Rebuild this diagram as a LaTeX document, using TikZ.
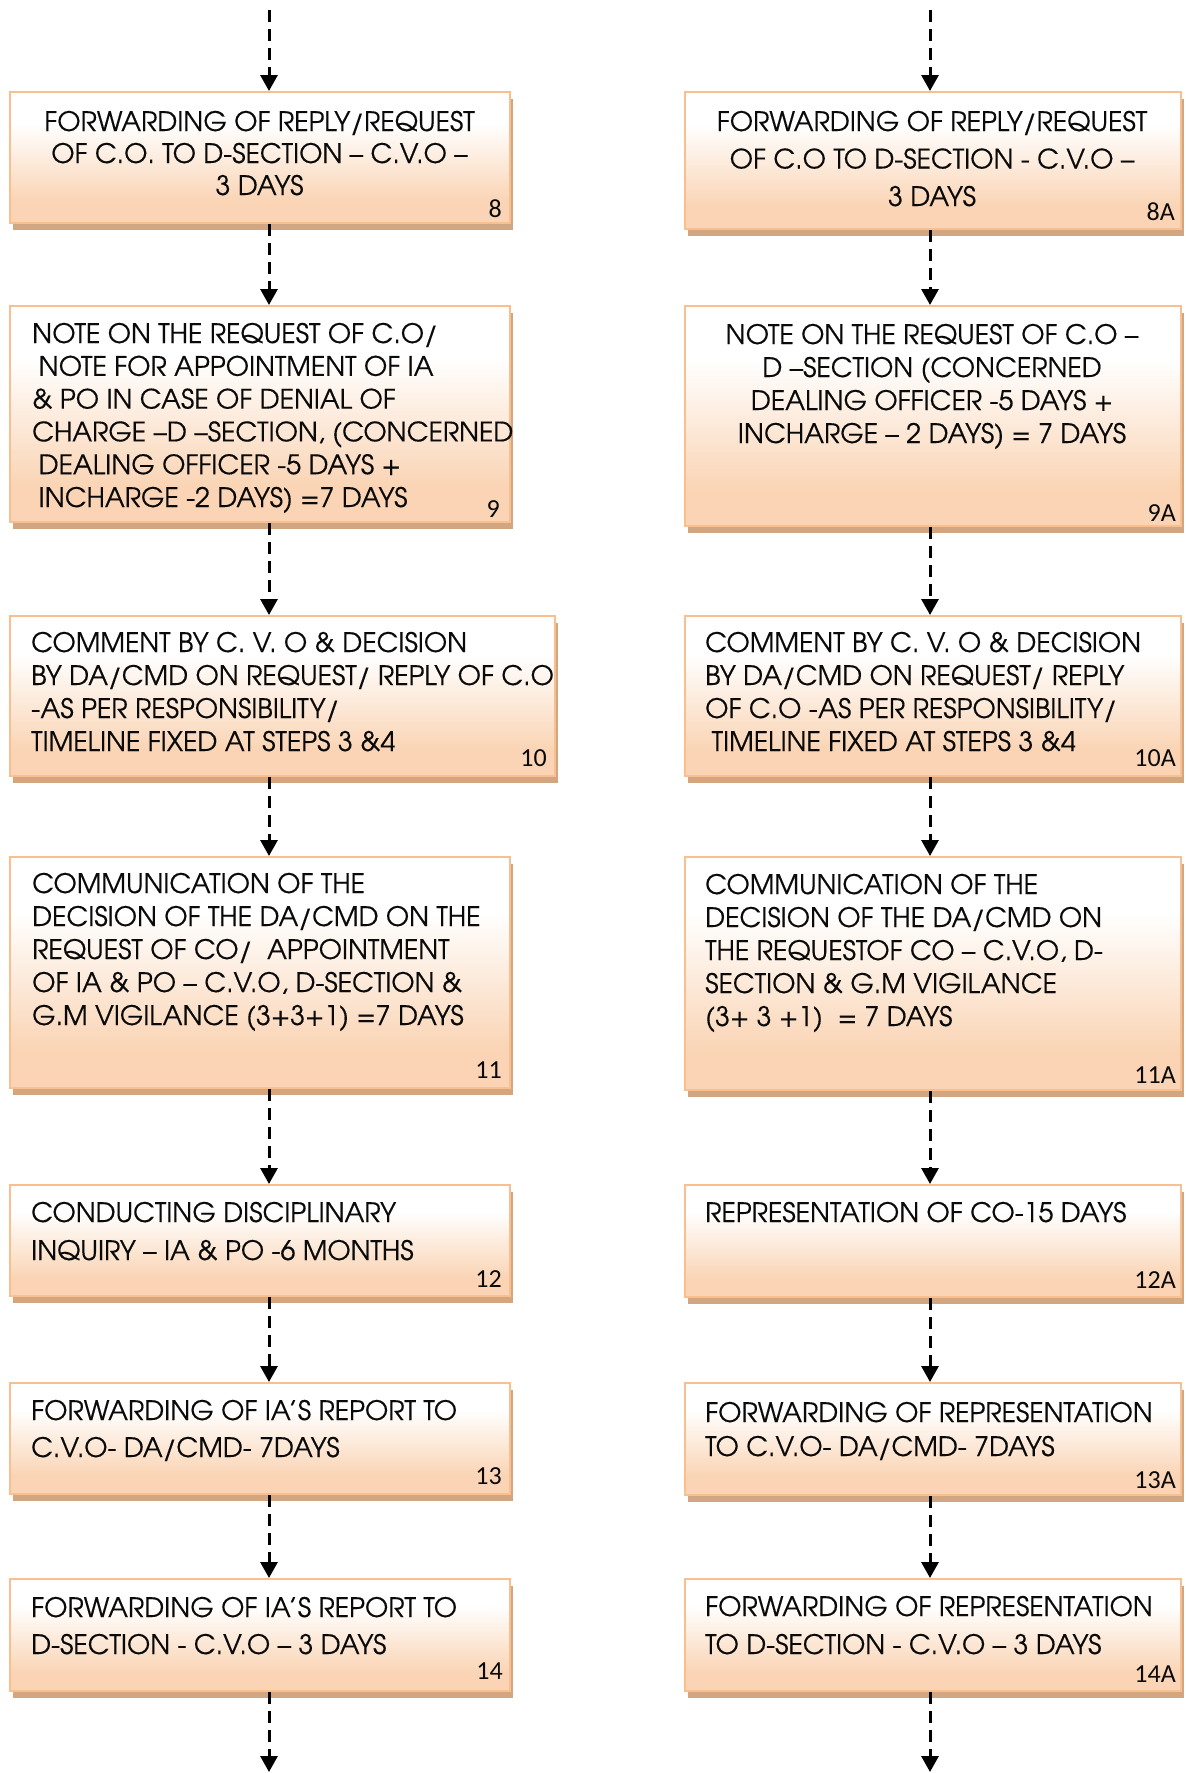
\documentclass[tikz,border=0pt]{standalone}
\usepackage{fontspec}
\setmainfont{TeX Gyre Adventor}[FakeBold=0.35]
\newfontfamily\numfont{Carlito}
\usetikzlibrary{arrows.meta,shadows}

\definecolor{peach}{RGB}{250,212,180}
\definecolor{edgeor}{RGB}{250,191,143}
\definecolor{shadowtan}{RGB}{210,166,128}
\definecolor{inkc}{RGB}{10,10,10}
\pgfdeclareverticalshading{peachgrad}{100bp}{color(0bp)=(peach); color(25bp)=(peach); color(33bp)=(peach); color(63bp)=(white); color(100bp)=(white)}

\newcommand\lft[2]{\parbox[t]{640pt}{\raggedright\fontsize{26.8}{#1}\selectfont #2}}
\newcommand\ctr[2]{\parbox[t]{540pt}{\centering\fontsize{26.8}{#1}\selectfont #2}}
\newcommand\lsp{\hspace*{6.5pt}}

\tikzset{
  x=1pt, y=-1pt,
  box/.style={draw=edgeor, line width=2pt, shading=peachgrad, rectangle, inner sep=0pt, anchor=north west,
    drop shadow={shadow xshift=3pt, shadow yshift=-7pt, fill=shadowtan, opacity=1}},
  txt/.style={inner sep=0pt, text=inkc},
  num/.style={inner sep=0pt, anchor=base east, text=inkc, font=\numfont\fontsize{26}{30}\selectfont},
  conn/.style={draw=black, line width=3pt, dash pattern=on 12pt off 7pt, -{Triangle[width=17pt,length=16pt]}}
}

\begin{document}
\begin{tikzpicture}
\useasboundingbox (0,0) rectangle (1186,1773);

% boxes
\node[box, minimum width=500pt, minimum height=131pt] (b8)  at (9,91) {};
\node[box, minimum width=496pt, minimum height=137pt] (b8A) at (684,91) {};
\node[box, minimum width=500pt, minimum height=216pt] (b9)  at (9,305) {};
\node[box, minimum width=496pt, minimum height=220pt] (b9A) at (684,305) {};
\node[box, minimum width=545pt, minimum height=160pt] (b10)  at (9,615) {};
\node[box, minimum width=496pt, minimum height=160pt] (b10A) at (684,615) {};
\node[box, minimum width=500pt, minimum height=231pt] (b11)  at (9,856) {};
\node[box, minimum width=496pt, minimum height=233pt] (b11A) at (684,856) {};
\node[box, minimum width=500pt, minimum height=111pt] (b12)  at (9,1184) {};
\node[box, minimum width=496pt, minimum height=112pt] (b12A) at (684,1184) {};
\node[box, minimum width=500pt, minimum height=111pt] (b13)  at (9,1382) {};
\node[box, minimum width=496pt, minimum height=112pt] (b13A) at (684,1382) {};
\node[box, minimum width=500pt, minimum height=112pt] (b14)  at (9,1578) {};
\node[box, minimum width=496pt, minimum height=112pt] (b14A) at (684,1578) {};

% texts
\node[txt, anchor=base] (t8) at (259.5,131) {\ctr{32pt}{FORWARDING OF REPLY/REQUEST\\OF C.O. TO D-SECTION – C.V.O –\\3 DAYS}};
\node[txt, anchor=base] (t8A) at (932,131) {\ctr{37.5pt}{FORWARDING OF REPLY/REQUEST\\OF C.O TO D-SECTION - C.V.O –\\3 DAYS}};
\node[txt, anchor=base west] (t9) at (32,343) {\lft{32.8pt}{NOTE ON THE REQUEST OF C.O/\\\lsp NOTE FOR APPOINTMENT OF IA\\\& PO IN CASE OF DENIAL OF\\CHARGE –D –SECTION, (CONCERNED\\\lsp DEALING OFFICER -5 DAYS +\\\lsp INCHARGE -2 DAYS) =7 DAYS}};
\node[txt, anchor=base] (t9A) at (932,344) {\ctr{33pt}{NOTE ON THE REQUEST OF C.O –\\D –SECTION (CONCERNED\\DEALING OFFICER -5 DAYS +\\INCHARGE – 2 DAYS) = 7 DAYS}};
\node[txt, anchor=base west] (t10) at (31,652) {\lft{33pt}{COMMENT BY C. V. O \& DECISION\\BY DA/CMD ON REQUEST/ REPLY OF C.O\\-AS PER RESPONSIBILITY/\\TIMELINE FIXED AT STEPS 3 \&4}};
\node[txt, anchor=base west] (t10A) at (705,652) {\lft{33pt}{COMMENT BY C. V. O \& DECISION\\BY DA/CMD ON REQUEST/ REPLY\\OF C.O -AS PER RESPONSIBILITY/\\\lsp TIMELINE FIXED AT STEPS 3 \&4}};
\node[txt, anchor=base west] (t11) at (32,893) {\lft{33pt}{COMMUNICATION OF THE\\DECISION OF THE DA/CMD ON THE\\REQUEST OF CO/\ \ APPOINTMENT\\OF IA \& PO – C.V.O, D-SECTION \&\\G.M VIGILANCE (3+3+1) =7 DAYS}};
\node[txt, anchor=base west] (t11A) at (705,894) {\lft{33pt}{COMMUNICATION OF THE\\DECISION OF THE DA/CMD ON\\THE REQUESTOF CO – C.V.O, D-\\SECTION \& G.M VIGILANCE\\(3+ 3 +1)\ \ = 7 DAYS}};
\node[txt, anchor=base west] (t12) at (31,1222) {\lft{38pt}{CONDUCTING DISCIPLINARY\\INQUIRY – IA \& PO -6 MONTHS}};
\node[txt, anchor=base west] (t12A) at (705,1222) {\lft{38pt}{REPRESENTATION OF CO-15 DAYS}};
\node[txt, anchor=base west] (t13) at (31,1420) {\lft{37pt}{FORWARDING OF IA’S REPORT TO\\C.V.O- DA/CMD- 7DAYS}};
\node[txt, anchor=base west] (t13A) at (705,1422) {\lft{34pt}{FORWARDING OF REPRESENTATION\\TO C.V.O- DA/CMD- 7DAYS}};
\node[txt, anchor=base west] (t14) at (31,1617) {\lft{37pt}{FORWARDING OF IA’S REPORT TO\\D-SECTION - C.V.O – 3 DAYS}};
\node[txt, anchor=base west] (t14A) at (705,1616) {\lft{38pt}{FORWARDING OF REPRESENTATION\\TO D-SECTION - C.V.O – 3 DAYS}};

% step numbers
\node[num] (n8)   at (502,217)  {8};
\node[num] (n8A)  at (1175,220) {8A};
\node[num] (n9)   at (500,517)  {9};
\node[num] (n9A)  at (1176,521) {9A};
\node[num] (n10)  at (547,766)  {10};
\node[num] (n10A) at (1176,766) {10A};
\node[num] (n11)  at (502,1078) {11};
\node[num] (n11A) at (1176,1083) {11A};
\node[num] (n12)  at (502,1287) {12};
\node[num] (n12A) at (1176,1288) {12A};
\node[num] (n13)  at (502,1484) {13};
\node[num] (n13A) at (1176,1488) {13A};
\node[num] (n14)  at (503,1679) {14};
\node[num] (n14A) at (1176,1682) {14A};

% connector columns
\coordinate (sL) at (269,10);
\coordinate (eL) at (269,1772);
\coordinate (sR) at (930,10);
\coordinate (eR) at (930,1772);

\draw[conn] (sL) -- (b8.north -| sL);
\draw[conn] (b8.south -| sL) -- (b9.north -| sL);
\draw[conn] (b9.south -| sL) -- (b10.north -| sL);
\draw[conn] (b10.south -| sL) -- (b11.north -| sL);
\draw[conn] (b11.south -| sL) -- (b12.north -| sL);
\draw[conn] (b12.south -| sL) -- (b13.north -| sL);
\draw[conn] (b13.south -| sL) -- (b14.north -| sL);
\draw[conn] (b14.south -| sL) -- (eL);

\draw[conn] (sR) -- (b8A.north -| sR);
\draw[conn] (b8A.south -| sR) -- (b9A.north -| sR);
\draw[conn] (b9A.south -| sR) -- (b10A.north -| sR);
\draw[conn] (b10A.south -| sR) -- (b11A.north -| sR);
\draw[conn] (b11A.south -| sR) -- (b12A.north -| sR);
\draw[conn] (b12A.south -| sR) -- (b13A.north -| sR);
\draw[conn] (b13A.south -| sR) -- (b14A.north -| sR);
\draw[conn] (b14A.south -| sR) -- (eR);
\end{tikzpicture}
\end{document}
